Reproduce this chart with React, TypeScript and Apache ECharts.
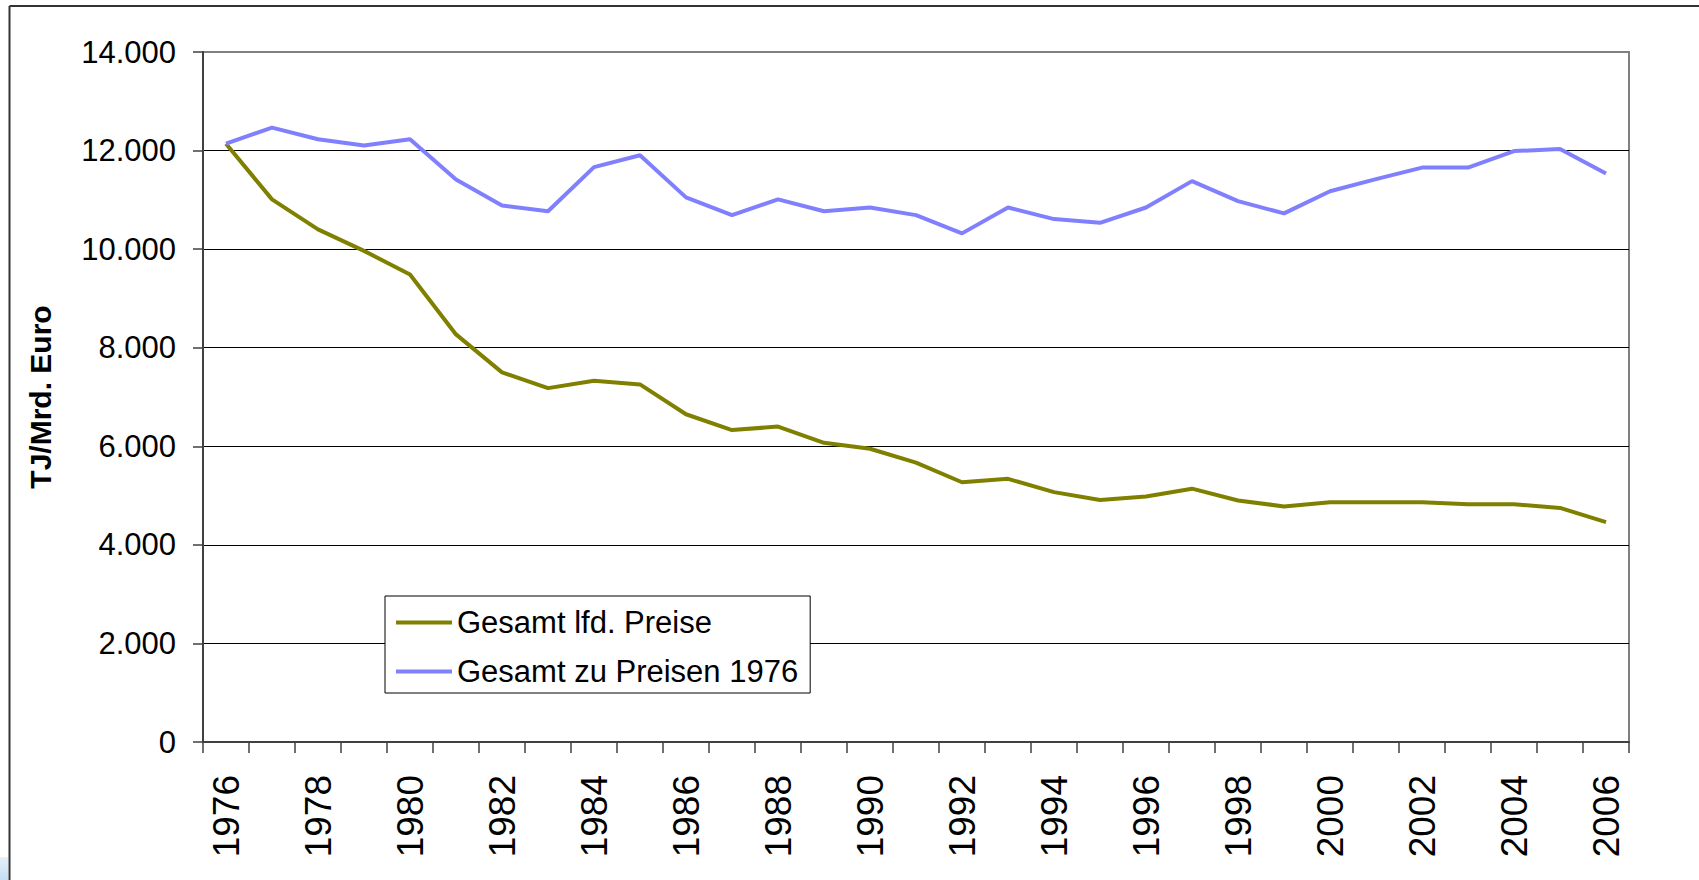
import React, { useEffect, useRef } from "react";
import * as echarts from "echarts";

const years = [
  "1976", "1977", "1978", "1979", "1980", "1981", "1982", "1983", "1984", "1985",
  "1986", "1987", "1988", "1989", "1990", "1991", "1992", "1993", "1994", "1995",
  "1996", "1997", "1998", "1999", "2000", "2001", "2002", "2003", "2004", "2005", "2006",
];

const gesamtLfdPreise = [
  12140, 11010, 10400, 9965, 9485, 8270, 7500, 7180, 7330, 7255,
  6650, 6330, 6400, 6070, 5950, 5670, 5270, 5340, 5070, 4910,
  4980, 5140, 4900, 4780, 4865, 4865, 4865, 4825, 4825, 4750, 4460,
];

const gesamtPreise1976 = [
  12140, 12465, 12230, 12105, 12230, 11415, 10885, 10770, 11665, 11905,
  11050, 10690, 11010, 10770, 10845, 10690, 10320, 10845, 10610, 10535,
  10845, 11380, 10975, 10725, 11175, 11420, 11655, 11655, 11990, 12030, 11535,
];

const seriesNames = ["Gesamt lfd. Preise", "Gesamt zu Preisen 1976"];
const yAxisTitle = "TJ/Mrd. Euro";

const FONT = "'Liberation Sans', Arial, Helvetica, sans-serif";

function fmt(v: number): string {
  return String(v).replace(/\B(?=(\d{3})+(?!\d))/g, ".");
}

export default function App() {
  const ref = useRef<HTMLDivElement>(null);

  useEffect(() => {
    if (!ref.current) return;
    const chart = echarts.init(ref.current, undefined, { renderer: "svg" });
    chart.setOption({
      animation: false,
      backgroundColor: "#ffffff",
      textStyle: { fontFamily: FONT },
      grid: {
        left: 203,
        top: 52,
        right: 70,
        bottom: 138,
        show: true,
        borderColor: "#808080",
        borderWidth: 2,
        backgroundColor: "transparent",
        containLabel: false,
        outerBoundsMode: "none",
      },
      legend: {
        orient: "vertical",
        left: 385,
        top: 596,
        padding: [11, 12, 6, 11],
        itemGap: 18,
        itemWidth: 56,
        itemHeight: 4,
        icon: "rect",
        backgroundColor: "#ffffff",
        borderColor: "#000000",
        borderWidth: 1,
        textStyle: { fontSize: 31, color: "#000000", fontFamily: FONT, padding: [0, 0, 0, 0] },
        data: seriesNames,
      },
      xAxis: {
        type: "category",
        data: years,
        boundaryGap: true,
        axisLine: { show: true, lineStyle: { color: "#404040", width: 2 } },
        axisTick: { show: true, interval: 0, length: 11, lineStyle: { color: "#404040", width: 1.5 } },
        axisLabel: {
          interval: 1,
          rotate: 90,
          fontSize: 37,
          color: "#000000",
          margin: 33,
          fontFamily: FONT,
        },
        splitLine: { show: false },
      },
      yAxis: {
        type: "value",
        min: 0,
        max: 14000,
        interval: 2000,
        name: yAxisTitle,
        nameLocation: "middle",
        nameGap: 148,
        nameTextStyle: { fontSize: 30, fontWeight: "bold", color: "#000000", fontFamily: FONT },
        axisLine: { show: true, lineStyle: { color: "#404040", width: 2 } },
        axisTick: { show: true, length: 10, lineStyle: { color: "#404040", width: 1.5 } },
        axisLabel: {
          fontSize: 31,
          color: "#000000",
          margin: 27,
          fontFamily: FONT,
          formatter: (v: number) => fmt(v),
        },
        splitLine: {
          show: true,
          showMinLine: false,
          showMaxLine: false,
          lineStyle: { color: "#000000", width: 1 },
        },
      },
      series: [
        {
          name: seriesNames[0],
          type: "line",
          data: gesamtLfdPreise,
          showSymbol: false,
          symbol: "none",
          lineStyle: { color: "#808000", width: 4 },
          itemStyle: { color: "#808000" },
          z: 3,
        },
        {
          name: seriesNames[1],
          type: "line",
          data: gesamtPreise1976,
          showSymbol: false,
          symbol: "none",
          lineStyle: { color: "#8080ff", width: 4 },
          itemStyle: { color: "#8080ff" },
          z: 4,
        },
      ],
      graphic: [
        {
          type: "line",
          shape: { x1: 9.5, y1: 6, x2: 9.5, y2: 880 },
          style: { stroke: "#333333", lineWidth: 2 },
          silent: true,
        },
        {
          type: "line",
          shape: { x1: 9.5, y1: 6, x2: 1699, y2: 6 },
          style: { stroke: "#333333", lineWidth: 2 },
          silent: true,
        },
        {
          type: "rect",
          shape: { x: 0, y: 857, width: 8, height: 23 },
          style: {
            fill: new echarts.graphic.LinearGradient(0, 0, 0, 1, [
              { offset: 0, color: "#e6f1fa" },
              { offset: 1, color: "#c4def2" },
            ]),
          },
          silent: true,
        },
      ],
    });
    return () => chart.dispose();
  }, []);

  return (
    <div
      ref={ref}
      style={{ position: "fixed", left: 0, top: 0, width: 1699, height: 880, background: "#fff" }}
    />
  );
}
